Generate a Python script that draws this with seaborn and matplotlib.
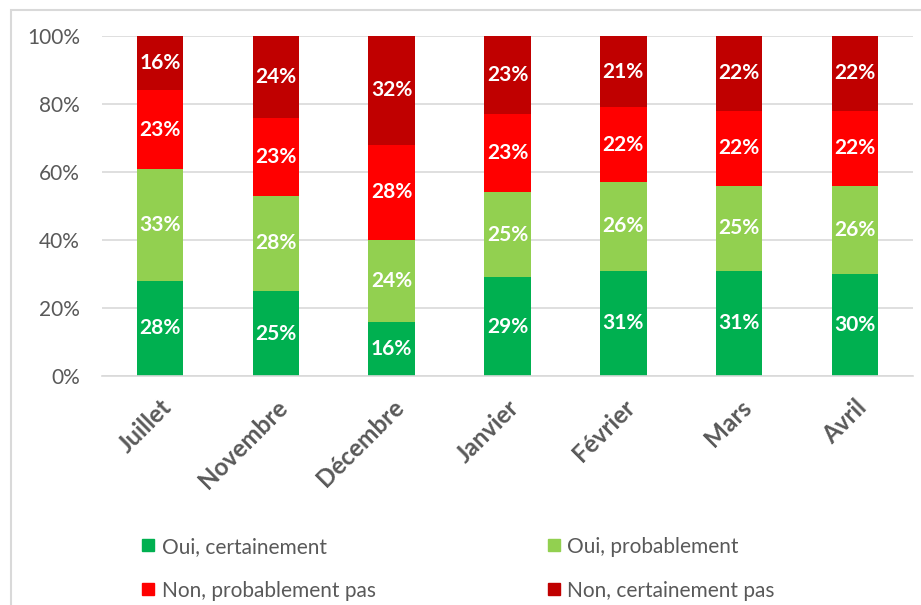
import numpy as np
import pandas as pd
import seaborn as sns
import matplotlib.pyplot as plt
from matplotlib.patches import Rectangle
from matplotlib.lines import Line2D

# Données (pourcentages)
mois = ["Juillet", "Novembre", "Décembre", "Janvier", "Février", "Mars", "Avril"]
oui_certainement = [28, 25, 16, 29, 31, 31, 30]
oui_probablement = [33, 28, 24, 25, 26, 25, 26]
non_probablement = [23, 23, 28, 23, 22, 22, 22]
non_certainement = [16, 24, 32, 23, 21, 22, 22]

series = ["Oui, certainement", "Oui, probablement", "Non, probablement pas", "Non, certainement pas"]
couleurs = ["#00B050", "#92D050", "#FF0000", "#C00000"]
valeurs = [oui_certainement, oui_probablement, non_probablement, non_certainement]

sns.set_style("white")
plt.rcParams["font.family"] = ["Lato", "DejaVu Sans"]
gris = "#595959"

fig = plt.figure(figsize=(9.21, 6.05), dpi=100)
ax = fig.add_axes([102 / 921, 1 - 376 / 605, (913 - 102) / 921, (376 - 36) / 605])

# cadre gris autour du graphique
fig.patches.append(Rectangle((11 / 921, -0.1), 1.2, 1.1 - 10 / 605, transform=fig.transFigure,
                             fill=False, edgecolor="#D9D9D9", linewidth=1.5))

bas = np.zeros(len(mois))
for nom, coul, vals in zip(series, couleurs, valeurs):
    df = pd.DataFrame({"mois": mois, "val": vals})
    sns.barplot(data=df, x="mois", y="val", order=mois, color=coul, width=0.4,
                bottom=bas, ax=ax, saturation=1, edgecolor="none")
    for i, v in enumerate(vals):
        ax.text(i, bas[i] + v / 2, f"{v}%", ha="center", va="center",
                color="white", fontsize=15, fontweight="bold")
    bas = bas + np.array(vals)

ax.set_ylim(0, 100)
ax.set_xlim(-0.5, len(mois) - 0.5)
ax.set_yticks(range(0, 101, 20))
ax.set_yticklabels([f"{t}%" for t in range(0, 101, 20)], fontsize=15, color=gris)
ax.yaxis.grid(True, color="#D9D9D9", linewidth=1.2)
ax.set_axisbelow(True)
ax.set_xlabel("")
ax.set_ylabel("")
for s in ["top", "right", "left"]:
    ax.spines[s].set_visible(False)
ax.spines["bottom"].set_color("#D9D9D9")
ax.spines["bottom"].set_linewidth(1.2)
ax.tick_params(axis="both", length=0)
ax.tick_params(axis="y", pad=16)
ax.tick_params(axis="x", pad=14)
ax.set_xticks(range(len(mois)))
ax.set_xticklabels(mois, rotation=45, ha="right", rotation_mode="anchor",
                   fontsize=17.5, fontweight="bold", color=gris)

# légende : ordre ligne par ligne comme l'original
ordre = [0, 2, 1, 3]
handles = [Line2D([], [], marker="s", linestyle="none", markersize=9,
                  markerfacecolor=couleurs[k], markeredgecolor=couleurs[k]) for k in ordre]
fig.legend(handles, [series[k] for k in ordre], ncol=2, frameon=False, loc="upper left",
           bbox_to_anchor=(122 / 921, 1 - 518 / 605), fontsize=15,
           labelcolor=gris, handlelength=0.7, handletextpad=0.3,
           columnspacing=8.2, labelspacing=1.15)

fig.savefig("out.png", dpi=100)
